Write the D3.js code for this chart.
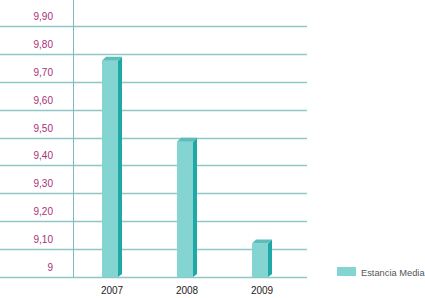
<!DOCTYPE html>
<html>
<head>
<meta charset="utf-8">
<script src="https://cdn.jsdelivr.net/npm/d3@7"></script>
<style>
  body { margin: 0; background: #fff; }
  text { font-family: "Liberation Sans", Arial, sans-serif; }
</style>
</head>
<body>
<svg id="chart" width="425" height="298"></svg>
<script>
// data
const years = ["2007", "2008", "2009"];
const estanciaMedia = [9.775, 9.485, 9.12];
const tickValues = [9, 9.1, 9.2, 9.3, 9.4, 9.5, 9.6, 9.7, 9.8, 9.9];
const tickLabels = ["9", "9,10", "9,20", "9,30", "9,40", "9,50", "9,60", "9,70", "9,80", "9,90"];
const legendLabel = "Estancia Media";

const svg = d3.select("#chart");

const y = d3.scaleLinear().domain([9, 10]).range([277, -2]);
const x = d3.scalePoint().domain(years).range([112, 262]);

const axisX = 73.5, gridRight = 307;

// gridlines
svg.append("g").selectAll("line")
  .data(tickValues)
  .join("line")
    .attr("x1", 0).attr("x2", gridRight)
    .attr("y1", d => Math.round(y(d)) + 0.5)
    .attr("y2", d => Math.round(y(d)) + 0.5)
    .attr("stroke", "#8fc6c6")
    .attr("stroke-width", 1.3);

// vertical axis
svg.append("line")
  .attr("x1", axisX).attr("x2", axisX)
  .attr("y1", 0).attr("y2", y(9))
  .attr("stroke", "#7fb9b9");

// tick labels (sit above each gridline)
svg.append("g").selectAll("text")
  .data(tickValues)
  .join("text")
    .attr("x", 53)
    .attr("y", d => y(d) - 6)
    .attr("text-anchor", "end")
    .attr("font-size", 10)
    .attr("fill", "#a8307a")
    .text((d, i) => tickLabels[i]);

// bars (pseudo 3d)
const frontW = 16, side = 4, topD = 4;
const data = years.map((yr, i) => ({ year: yr, v: estanciaMedia[i] }));
const bars = svg.append("g").selectAll("g").data(data).join("g");

bars.append("rect")
  .attr("x", d => x(d.year) - 10)
  .attr("y", d => y(d.v))
  .attr("width", frontW)
  .attr("height", d => y(9) - y(d.v))
  .attr("fill", "#84d4d2");

bars.append("path")
  .attr("d", d => {
    const x0 = x(d.year) - 10 + frontW, t = y(d.v), b = y(9);
    return `M${x0},${t} L${x0 + side},${t - topD} L${x0 + side},${b - topD + 1} L${x0},${b} Z`;
  })
  .attr("fill", "#1ea9a6");

bars.append("path")
  .attr("d", d => {
    const x0 = x(d.year) - 10, t = y(d.v);
    return `M${x0},${t} L${x0 + side},${t - topD} L${x0 + frontW + side},${t - topD} L${x0 + frontW},${t} Z`;
  })
  .attr("fill", "#5cbdbb");

// year labels
svg.append("g").selectAll("text")
  .data(years)
  .join("text")
    .attr("x", d => x(d))
    .attr("y", 294)
    .attr("text-anchor", "middle")
    .attr("font-size", 10)
    .attr("fill", "#222")
    .text(d => d);

// legend
svg.append("rect")
  .attr("x", 337).attr("y", 267)
  .attr("width", 19).attr("height", 9)
  .attr("fill", "#84d4d2");
svg.append("text")
  .attr("x", 361).attr("y", 276)
  .attr("font-size", 9.3)
  .attr("fill", "#555")
  .text(legendLabel);
</script>
</body>
</html>
